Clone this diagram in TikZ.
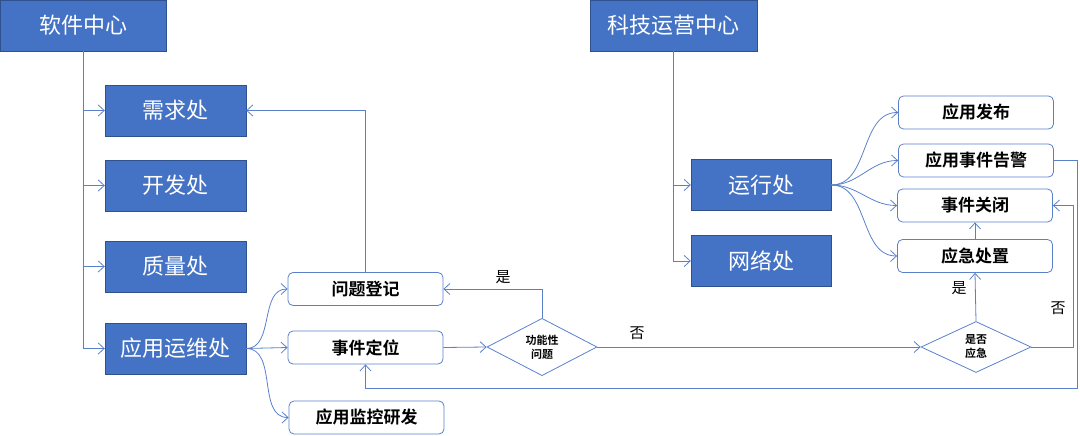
\documentclass[tikz,border=0pt]{standalone}
\usepackage{fontspec}
\setmainfont{Noto Sans CJK SC}[BoldFont={Noto Sans CJK SC Bold}]
\usetikzlibrary{arrows.meta,shapes.geometric}
\definecolor{deptblue}{HTML}{4472C4}
\definecolor{deptedge}{HTML}{2F528F}
\definecolor{flowline}{HTML}{5A80CC}
\begin{document}
\begin{tikzpicture}[x=1pt, y=-1pt,
    center/.style={draw=deptedge, fill=deptblue, text=white, minimum width=166pt, minimum height=51pt, font=\fontsize{22}{26}\selectfont},
    dept/.style={draw=deptedge, fill=deptblue, text=white, minimum width=141pt, minimum height=51pt, font=\fontsize{22}{26}\selectfont},
    task/.style={draw=flowline, thick, fill=white, rounded corners=5pt, minimum width=155pt, minimum height=33pt, font=\fontsize{17}{20}\selectfont\bfseries},
    choice/.style={draw=flowline, thick, diamond, inner sep=0pt, minimum width=110pt, minimum height=51pt, align=center, font=\fontsize{11}{14}\selectfont\bfseries},
    flow/.style={draw=flowline, thick, -{Straight Barb[length=6pt, width=11pt]}},
    answer/.style={font=\fontsize{15}{18}\selectfont}]
    \useasboundingbox (0,0) rectangle (1080,436);

    % software centre
    \node [center] (soft) at (83,25.5) {软件中心};
    \node [dept] (req) at (175.5,110.5) {需求处};
    \node [dept] (dev) at (175.5,185.5) {开发处};
    \node [dept] (qa) at (175.5,266.5) {质量处};
    \node [dept] (ops) at (175.5,348.5) {应用运维处};

    \node [task] (reg) at (365.5,289) {问题登记};
    \node [task] (loc) at (365.5,347.5) {事件定位};
    \node [task] (mon) at (366.5,417.5) {应用监控研发};

    \node [choice] (func) at (542,347) {功能性\\问题};

    % technology operations centre
    \node [center, minimum width=167pt] (tech) at (673.5,25.5) {科技运营中心};
    \node [dept, minimum width=140pt] (run) at (761,185) {运行处};
    \node [dept, minimum width=140pt] (net) at (761,261) {网络处};

    \node [task] (pub) at (976,112.5) {应用发布};
    \node [task] (alarm) at (976,160.5) {应用事件告警};
    \node [task] (close) at (975,205.5) {事件关闭};
    \node [task] (handle) at (975,256) {应急处置};

    \node [choice] (urgent) at (976,347) {是否\\应急};

    \coordinate (back) at (1077,388);

    \draw [flow] (soft.south) |- (req.west);
    \draw [flow] (soft.south) |- (dev.west);
    \draw [flow] (soft.south) |- (qa.west);
    \draw [flow] (soft.south) |- (ops.west);

    \draw [flow] (ops.east) to [out=0, in=180] (reg.west);
    \draw [flow] (ops.east) -- (loc.west);
    \draw [flow] (ops.east) to [out=0, in=180] (mon.west);

    \draw [flow] (tech.south) |- (run.west);
    \draw [flow] (tech.south) |- (net.west);

    \draw [flow] (run.east) to [out=0, in=180] (pub.west);
    \draw [flow] (run.east) to [out=0, in=180] (alarm.west);
    \draw [flow] (run.east) to [out=0, in=180] (close.west);
    \draw [flow] (run.east) to [out=0, in=180] (handle.west);

    \draw [flow] (reg.north) |- (req.east);
    \draw [flow] (loc.east) -- (func.west);
    \draw [flow] (func.north) |- (reg.east);
    \node [answer] (yes1) at (503,277) {是};
    \draw [flow] (func.east) -- (urgent.west);
    \node [answer] (no1) at (637,333) {否};

    \draw [flow] (urgent.north) -- (handle.south);
    \node [answer] (yes2) at (959,288) {是};
    \draw [flow] (handle.north) -- (close.south);
    \draw [flow] (urgent.east) -- ++(42,0) |- (close.east);
    \node [answer] (no2) at (1058,308) {否};

    \draw [flow] (alarm.east) -| (back) -| (loc.south);
\end{tikzpicture}
\end{document}
